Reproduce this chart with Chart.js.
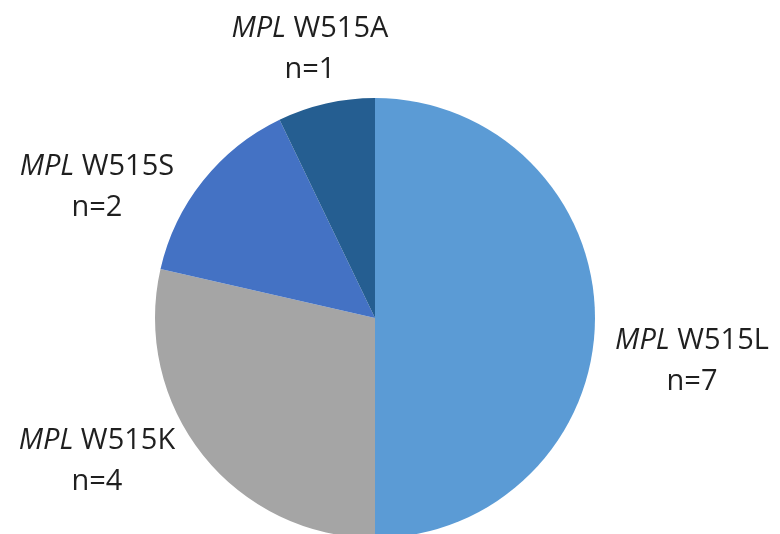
<!DOCTYPE html>
<html>
<head>
<meta charset="utf-8">
<script src="https://cdn.jsdelivr.net/npm/chart.js@4.4.1/dist/chart.umd.min.js"></script>
<style>
  html, body { margin: 0; padding: 0; background: #fff; overflow: hidden; }
  canvas { display: block; }
</style>
</head>
<body>
<canvas id="myChart1" width="780" height="560"></canvas>
<script>

let variants = ['W515L', 'W515K', 'W515S', 'W515A'];
let counts = [7, 4, 2, 1];
let colors = ['#5B9BD5', '#A5A5A5', '#4472C4', '#255E91'];

// label block centres: angle from top (deg, clockwise) and distance as a fraction of the radius
let labelAngle = [97.7, -117.2, -64.8, -13.6];
let labelDist = [1.454, 1.421, 1.397, 1.259];

let labelPlugin = {
  id: 'outerLabels',
  afterDraw(chart) {
    let ctx = chart.ctx;
    let arcs = chart.getDatasetMeta(0).data;
    let fs = 29;
    let fam = '"Open Sans", "Noto Sans", sans-serif';
    ctx.save();
    ctx.fillStyle = '#1f1f1f';
    ctx.textBaseline = 'middle';
    arcs.forEach((arc, i) => {
      let a = labelAngle[i] * Math.PI / 180;
      let d = arc.outerRadius * labelDist[i];
      let cx = arc.x + d * Math.sin(a);
      let cy = arc.y - d * Math.cos(a);
      let it = 'italic ' + fs + 'px ' + fam;
      let rg = fs + 'px ' + fam;
      ctx.font = it;
      let w1 = ctx.measureText('MPL ').width;
      ctx.font = rg;
      let w2 = ctx.measureText(variants[i]).width;
      let x0 = cx - (w1 + w2) / 2;
      ctx.textAlign = 'left';
      ctx.font = it;
      ctx.fillText('MPL ', x0, cy - 20);
      ctx.font = rg;
      ctx.fillText(variants[i], x0 + w1, cy - 20);
      ctx.textAlign = 'center';
      ctx.fillText('n=' + counts[i], cx, cy + 21);
    });
    ctx.restore();
  }
};

let chart1 = new Chart(document.getElementById('myChart1').getContext('2d'), {
  type: 'pie',
  data: {
    labels: variants,
    datasets: [{
      data: counts,
      backgroundColor: colors,
      borderWidth: 0
    }]
  },
  options: {
    responsive: false,
    animation: false,
    devicePixelRatio: 1,
    layout: { padding: { left: 155, right: 185, top: 98, bottom: 22 } },
    plugins: {
      legend: { display: false },
      tooltip: { enabled: false }
    }
  },
  plugins: [labelPlugin]
});
</script>
</body>
</html>
